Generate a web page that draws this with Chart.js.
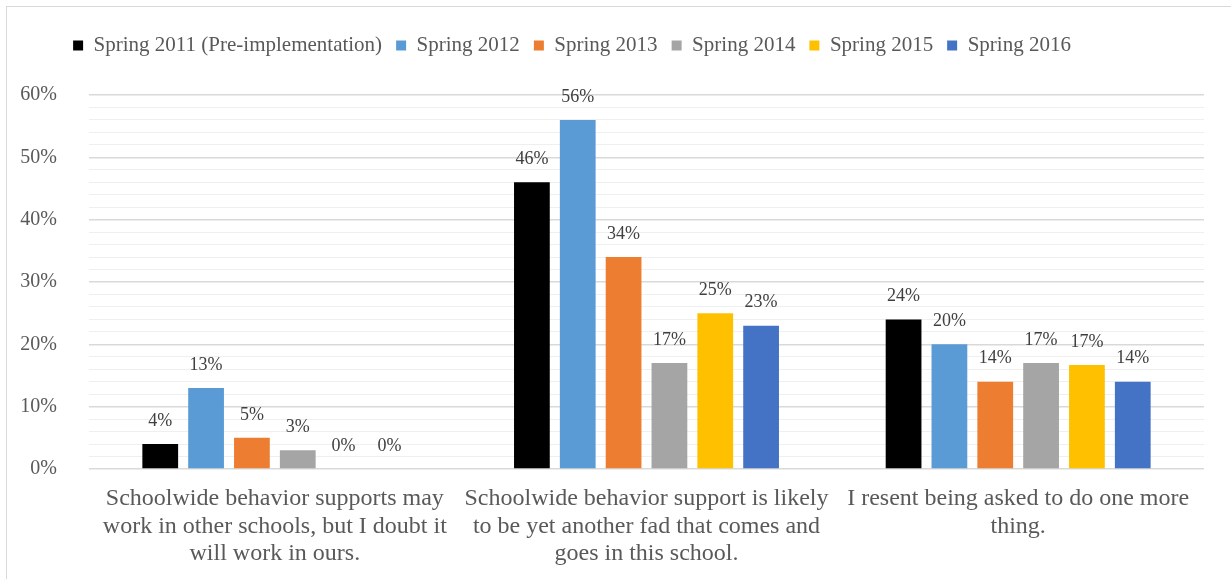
<!DOCTYPE html>
<html lang="en">
<head>
  <meta charset="UTF-8">
  <title>Schoolwide behavior support survey</title>
  <script src="https://cdn.jsdelivr.net/npm/chart.js"></script>
  <style>
    body { margin: 0; background: #fff; font-family: "Liberation Serif", serif; }
    #frame { position: absolute; left: 6px; top: 6px; width: 1240px; height: 600px; border: 1px solid #d9d9d9; }
    #wrap { position: absolute; left: 0; top: 0; width: 1231px; height: 579px; }
  </style>
</head>
<body>
  <div id="frame"></div>
  <div id="wrap"><canvas id="chart"></canvas></div>

  <script>
    const categories = [
      ['Schoolwide behavior supports may', 'work in other schools, but I doubt it', 'will work in ours.'],
      ['Schoolwide behavior support is likely', 'to be yet another fad that comes and', 'goes in this school.'],
      ['I resent being asked to do one more', 'thing.']
    ];
    const seriesNames = ['Spring 2011 (Pre-implementation)', 'Spring 2012', 'Spring 2013', 'Spring 2014', 'Spring 2015', 'Spring 2016'];
    const spring2011 = [4, 46, 24];
    const spring2012 = [13, 56, 20];
    const spring2013 = [5, 34, 14];
    const spring2014 = [3, 17, 17];
    const spring2015 = [0, 25, 16.7];
    const spring2016 = [0, 23, 14];
    const valueLabels = [
      ['4%', '46%', '24%'],
      ['13%', '56%', '20%'],
      ['5%', '34%', '14%'],
      ['3%', '17%', '17%'],
      ['0%', '25%', '17%'],
      ['0%', '23%', '14%']
    ];
    const colors = ['#000000', '#5b9bd5', '#ed7d31', '#a5a5a5', '#ffc000', '#4472c4'];

    const allSeries = [spring2011, spring2012, spring2013, spring2014, spring2015, spring2016];

    // draws the percentage above each bar
    const barLabels = {
      id: 'barLabels',
      afterDatasetsDraw(chart) {
        const ctx = chart.ctx;
        ctx.save();
        ctx.font = '18px "Liberation Serif"';
        ctx.fillStyle = '#404040';
        ctx.textAlign = 'center';
        ctx.textBaseline = 'middle';
        chart.data.datasets.forEach((ds, i) => {
          chart.getDatasetMeta(i).data.forEach((bar, j) => {
            ctx.fillText(valueLabels[i][j], bar.x, bar.y - 23);
          });
        });
        ctx.restore();
      }
    };

    // extra room under the legend, and legend sits a bit left of centre
    const legendTweak = {
      id: 'legendTweak',
      beforeInit(chart) {
        const fit = chart.legend.fit;
        chart.legend.fit = function () {
          fit.call(this);
          this.height += 29;
        };
      },
      afterLayout(chart) {
        chart.legend.left -= 30;
        chart.legend.right -= 30;
      }
    };

    new Chart(document.getElementById('chart'), {
      type: 'bar',
      data: {
        labels: categories,
        datasets: allSeries.map((vals, i) => ({
          label: seriesNames[i],
          data: vals,
          backgroundColor: colors[i],
          borderWidth: 0
        }))
      },
      options: {
        responsive: true,
        maintainAspectRatio: false,
        animation: false,
        datasets: { bar: { categoryPercentage: 0.74, barPercentage: 0.78 } },
        layout: { padding: { left: 0, right: 27, top: 21, bottom: 0 } },
        plugins: {
          tooltip: { enabled: false },
          legend: {
            position: 'top',
            labels: {
              boxWidth: 10,
              boxHeight: 10,
              padding: 14,
              color: '#595959',
              font: { family: 'Liberation Serif', size: 21 }
            }
          }
        },
        scales: {
          x: {
            grid: { display: false },
            border: { display: false },
            ticks: { color: '#595959', padding: 8, font: { family: 'Liberation Serif', size: 24, lineHeight: 1.15 }, maxRotation: 0 },
            afterFit(scale) { scale.height = 110; }
          },
          y: {
            min: 0,
            max: 60,
            border: { display: false },
            grid: {
              color: c => (c.tick && c.tick.value % 10 === 0) ? '#d9d9d9' : '#efefef',
              lineWidth: c => (c.tick && c.tick.value % 10 === 0) ? 1.5 : 1,
              drawTicks: false
            },
            ticks: {
              stepSize: 2,
              autoSkip: false,
              padding: 32,
              color: '#595959',
              font: { family: 'Liberation Serif', size: 20 },
              callback: v => v % 10 === 0 ? v + '%' : ''
            },
            afterFit(scale) { scale.width = 89; }
          }
        }
      },
      plugins: [barLabels, legendTweak]
    });
  </script>
</body>
</html>
